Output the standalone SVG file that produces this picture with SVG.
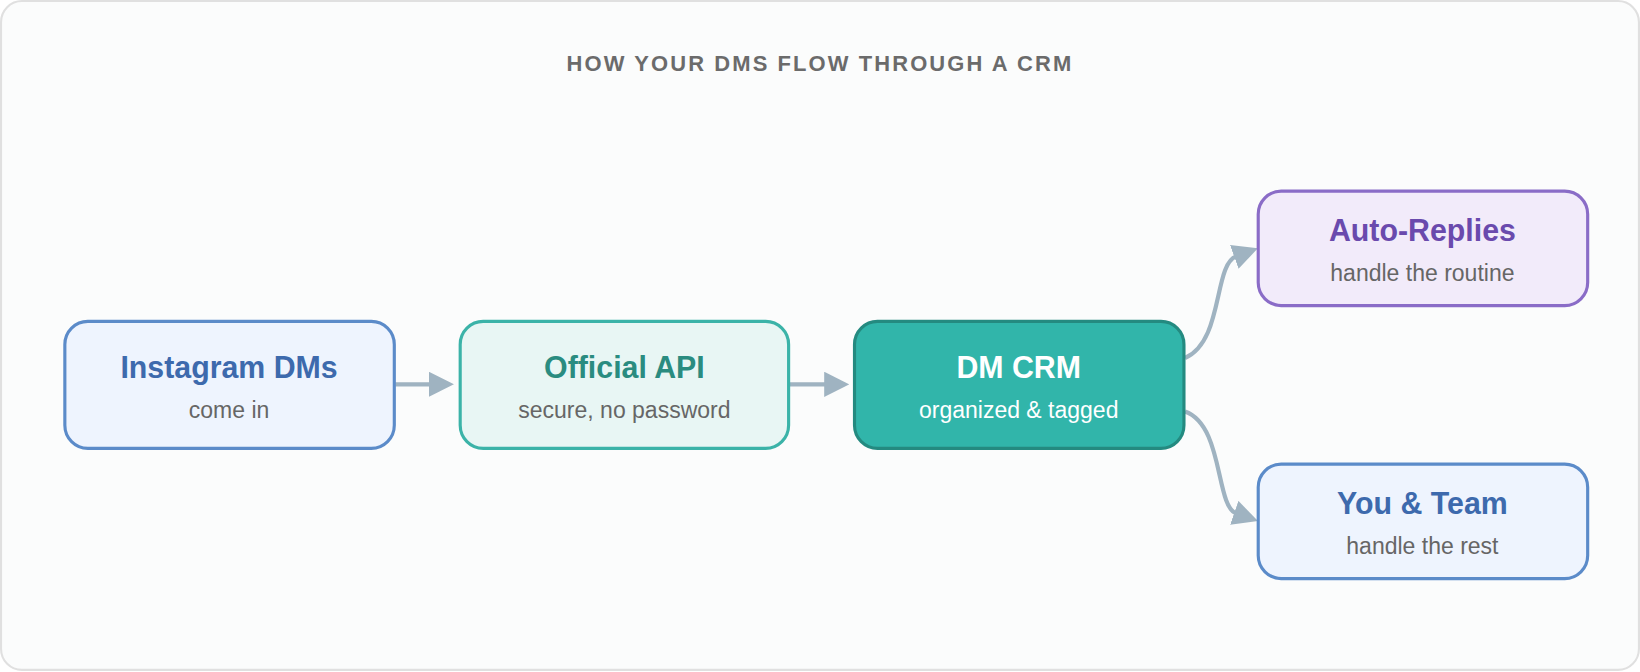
<svg xmlns="http://www.w3.org/2000/svg" width="1640" height="672" viewBox="0 0 1640 672">
<defs>
<style>
.t{font-family:"Liberation Sans",Arial,sans-serif;font-weight:bold;font-size:29px;text-anchor:middle}
.s{font-family:"Liberation Sans",Arial,sans-serif;font-size:22px;fill:#666;text-anchor:middle}
.n{stroke-width:3}
.c{fill:none;stroke:#9fb3c1;stroke-width:4}
</style>
<marker id="a" viewBox="0 0 24 24" refX="2" refY="12" markerWidth="24" markerHeight="24" markerUnits="userSpaceOnUse" orient="auto"><path d="M0,0 L24,12 L0,24 Z" fill="#9fb3c1"/></marker>
</defs>
<g transform="scale(1.0459,1.05)">
<rect x="1" y="1" width="1566" height="637" rx="20" fill="#fbfcfc" stroke="#e0e0e0" stroke-width="2"/>
<text x="784" y="68" font-family="Liberation Sans,Arial,sans-serif" font-weight="bold" font-size="21" letter-spacing="2" fill="#6b6b6b" text-anchor="middle">HOW YOUR DMS FLOW THROUGH A CRM</text>
<g id="connectors">
<path class="c" d="M378,366 L412,366" marker-end="url(#a)"/>
<path class="c" d="M755,366 L790,366" marker-end="url(#a)"/>
<path class="c" d="M1133,341 C1170,325 1160,252 1182,244" marker-end="url(#a)"/>
<path class="c" d="M1133,392 C1170,405 1162,482 1182,489" marker-end="url(#a)"/>
</g>
<g id="instagram"><rect class="n" x="62" y="306" width="315" height="121" rx="22" fill="#eef4fe" stroke="#5b8bc9"/>
<text class="t" x="219" y="360" fill="#3d6aad">Instagram DMs</text><text class="s" x="219" y="398">come in</text></g>
<g id="api"><rect class="n" x="440" y="306" width="314" height="121" rx="22" fill="#e8f6f4" stroke="#3bb3a8"/>
<text class="t" x="597" y="360" fill="#2a8c80">Official API</text><text class="s" x="597" y="398">secure, no password</text></g>
<g id="crm"><rect class="n" x="817" y="306" width="315" height="121" rx="22" fill="#31b5aa" stroke="#248a80"/>
<text class="t" x="974" y="360" fill="#fff">DM CRM</text><text class="s" x="974" y="398" style="fill:#fff">organized &amp; tagged</text></g>
<g id="auto"><rect class="n" x="1203" y="182" width="315" height="109" rx="22" fill="#f2ebfa" stroke="#8a6cc7"/>
<text class="t" x="1360" y="230" fill="#6a4aad">Auto-Replies</text><text class="s" x="1360" y="268">handle the routine</text></g>
<g id="team"><rect class="n" x="1203" y="442" width="315" height="109" rx="22" fill="#eef4fe" stroke="#5b8bc9"/>
<text class="t" x="1360" y="490" fill="#3d6aad">You &amp; Team</text><text class="s" x="1360" y="528">handle the rest</text></g>
</g>
</svg>
